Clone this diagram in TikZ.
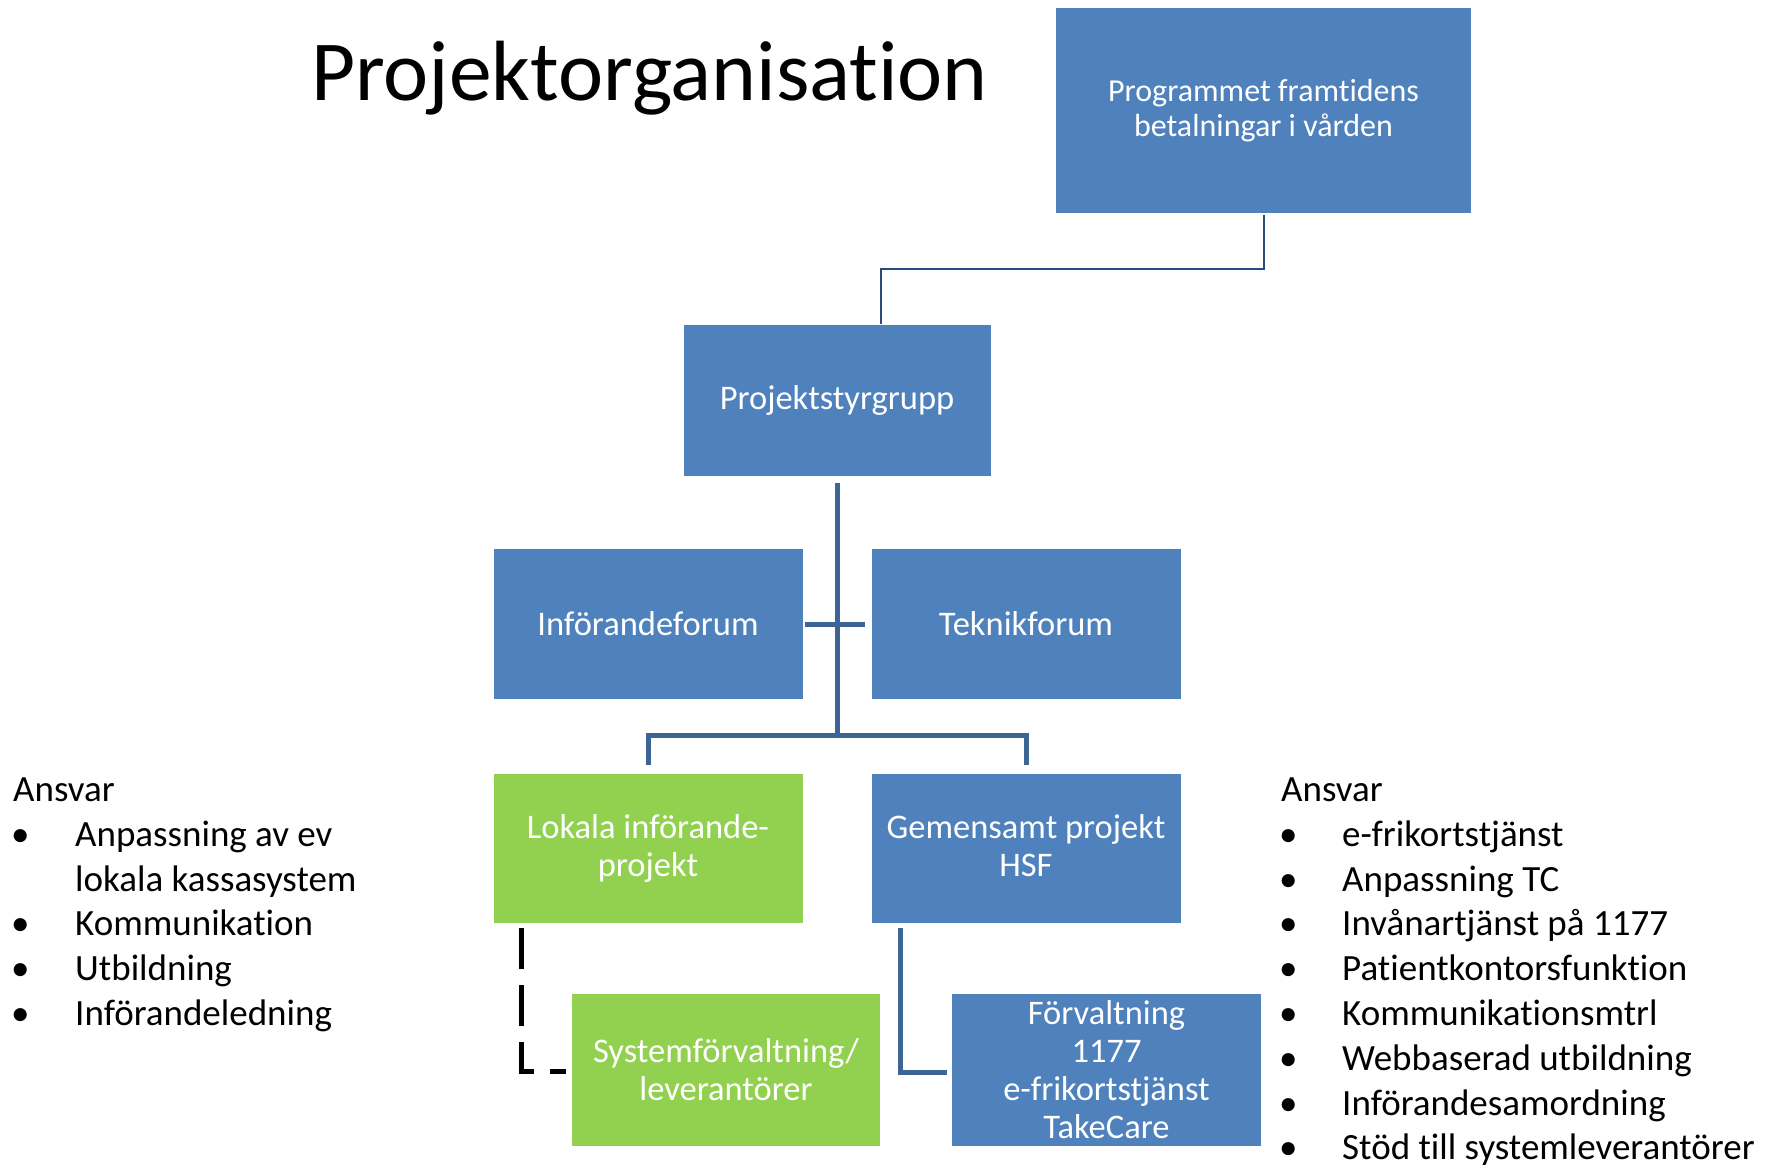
\documentclass[tikz,border=0pt]{standalone}
\usepackage{fontspec}
\setmainfont{Carlito}[Ligatures={NoCommon,NoRare,NoContextual}]
\usetikzlibrary{calc}
\definecolor{boxblue}{HTML}{4F81BD}
\definecolor{boxgreen}{HTML}{92D050}
\definecolor{linkblue}{HTML}{3C6494}
\definecolor{topline}{HTML}{2A4B7C}
\begin{document}
\begin{tikzpicture}[x=1pt,y=-1pt,
  orgbox/.style={fill=boxblue,text=white,align=center,inner sep=0pt,
    minimum width=309pt,minimum height=150pt,
    font=\fontsize{34.5}{38}\selectfont},
  greenbox/.style={orgbox,fill=boxgreen},
  link/.style={draw=linkblue,line width=5pt,line join=miter},
  listtext/.style={anchor=base west,inner sep=0pt,font=\fontsize{37}{44}\selectfont},
]
\useasboundingbox (0,0) rectangle (1774,1164);

% title
\node[anchor=base west,inner sep=0pt,font=\fontsize{85.5}{100}\selectfont] (title) at (311,100) {Projektorganisation};

% boxes
\node[orgbox,minimum width=415pt,minimum height=205pt,font=\fontsize{32}{35.5}\selectfont] (prog) at (1263.5,110.5) {Programmet framtidens\\betalningar i vården};
\node[orgbox,minimum width=307pt,minimum height=151pt] (styr) at (837,400.5) {Projektstyrgrupp};
\node[orgbox] (inf) at (648,624) {Införandeforum};
\node[orgbox] (tek) at (1026,624) {Teknikforum};
\node[greenbox,minimum height=149pt] (lok) at (648,848.5) {Lokala införande-\\projekt};
\node[orgbox,minimum height=149pt] (gem) at (1026,848.5) {Gemensamt projekt\\HSF\vphantom{pj}};
\node[greenbox,minimum width=308pt,minimum height=152pt] (sys) at (726,1070) {Systemförvaltning/\\leverantörer};
\node[orgbox,minimum width=309pt,minimum height=152pt] (forv) at (1106.5,1070) {Förvaltning\\1177\\e-frikortstjänst\\TakeCare};

% connectors
\draw[draw=topline,line width=2pt] ([yshift=-2pt]prog.south) -- ++(0,54) -| ([xshift=44pt,yshift=1pt]styr.north);
\coordinate (bus) at (837,735);
\draw[link] ([yshift=-7pt]styr.south) -- (bus);
\draw[link] ([yshift=9pt]lok.north) -- (lok.north |- bus) -- (gem.north |- bus) -- ([yshift=9pt]gem.north);
\draw[link] ([xshift=2pt]inf.east) -- ([xshift=-6pt]tek.west);
\draw[link] ([xshift=29.5pt,yshift=-5pt]gem.south west) |- ([xshift=-5pt,yshift=-2pt]forv.west);
\draw[black,line width=5pt,dash pattern=on 41pt off 16pt,line join=miter] ([xshift=28pt,yshift=-5pt]lok.south west) |- ([xshift=-6pt,yshift=-1pt]sys.west);

% left list
\node[listtext] (la) at (13,801.5) {Ansvar};
\node[listtext] (lb1) at (11,846.3) {•};
\node[listtext] (l1) at (75,846.3) {Anpassning av ev};
\node[listtext] (l1b) at (75,891.1) {lokala kassasystem};
\node[listtext] (lb2) at (11,935.9) {•};
\node[listtext] (l2) at (75,935.9) {Kommunikation};
\node[listtext] (lb3) at (11,980.7) {•};
\node[listtext] (l3) at (75,980.7) {Utbildning};
\node[listtext] (lb4) at (11,1025.5) {•};
\node[listtext] (l4) at (75,1025.5) {Införandeledning};

% right list
\node[listtext] (ra) at (1281,801.5) {Ansvar};
\foreach \yy/\tt [count=\i] in {846.3/e-frikortstjänst,891.1/Anpassning TC,935.9/Invånartjänst på 1177,980.7/Patientkontorsfunktion,1025.5/Kommunikationsmtrl,1070.3/Webbaserad utbildning,1115.1/Införandesamordning,1159.9/Stöd till systemleverantörer}{
  \node[listtext] (rb\i) at (1279,\yy) {•};
  \node[listtext] (r\i) at (1342,\yy) {\tt};
}
\end{tikzpicture}
\end{document}
